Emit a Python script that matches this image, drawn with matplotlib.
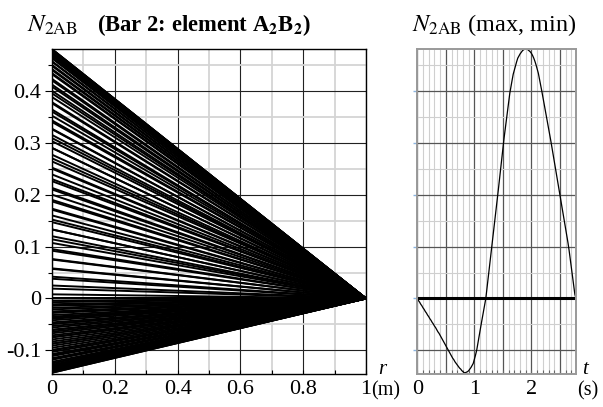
import numpy as np
import matplotlib
matplotlib.use("Agg")
import matplotlib.pyplot as plt
from matplotlib.ticker import MultipleLocator, FuncFormatter

plt.rcParams["font.family"] = ["Liberation Serif", "DejaVu Serif"]
plt.rcParams["mathtext.fontset"] = "stix"
plt.rcParams["axes.unicode_minus"] = False

# axial force N2AB, one value every 0.02 s from t = 0 to t = 2.78 s
dt = 0.02
n2ab = [
    0.000, -0.004, -0.007, -0.011, -0.014, -0.018, -0.021, -0.025,
    -0.028, -0.032, -0.035, -0.039, -0.042,
    -0.046, -0.049, -0.053, -0.056, -0.060, -0.064,
    -0.067, -0.071, -0.075, -0.079, -0.083, -0.087,
    -0.091, -0.095, -0.099,
    -0.103, -0.107, -0.111, -0.115, -0.118, -0.122,
    -0.125, -0.128, -0.131, -0.134,
    -0.136, -0.139, -0.141, -0.143, -0.143, -0.142, -0.141, -0.139,
    -0.136, -0.133, -0.129, -0.125,
    -0.117, -0.109, -0.100,
    -0.087, -0.074, -0.061,
    -0.049, -0.037, -0.026,
    -0.013, 0.000,
    0.019, 0.038, 0.057, 0.076, 0.095,
    0.114, 0.133, 0.152, 0.171, 0.190,
    0.210, 0.230, 0.250, 0.270, 0.290,
    0.309, 0.326, 0.343, 0.360, 0.378, 0.395,
    0.408, 0.420, 0.432,
    0.440, 0.448, 0.456, 0.463,
    0.467, 0.471, 0.474, 0.477, 0.479, 0.480, 0.480,
    0.480, 0.479, 0.477, 0.475, 0.472,
    0.468, 0.463, 0.457, 0.450, 0.442, 0.434,
    0.423, 0.412, 0.400,
    0.388, 0.376, 0.364, 0.352, 0.340, 0.327, 0.315, 0.303,
    0.290, 0.277, 0.264, 0.252, 0.239, 0.226, 0.213, 0.200,
    0.187, 0.173, 0.160, 0.147, 0.133, 0.120, 0.107,
    0.092, 0.075, 0.058, 0.042, 0.025, 0.008, 0.000,
]
t = np.arange(len(n2ab)) * dt

W, H = 603, 407
fig = plt.figure(figsize=(W / 100, H / 100), dpi=100)


def box(x0, y0, x1, y1):
    return [x0 / W, 1 - y1 / H, (x1 - x0) / W, (y1 - y0) / H]


ax1 = fig.add_axes(box(52, 49.3, 366, 373.5))
ax2 = fig.add_axes(box(417.3, 49.3, 576, 373.5))
ylim = (-0.1445, 0.48)
fmt = FuncFormatter(lambda v, p: "%g" % round(v, 3))

# left: force along the bar, a straight line from N(t) at r=0 down to 0 at r=1
for n in n2ab:
    ax1.plot([0.0, 1.0], [n, 0.0], color="black", lw=1.4, solid_capstyle="butt")
ax1.set_xlim(0, 1)
ax1.set_ylim(*ylim)
ax1.xaxis.set_major_locator(MultipleLocator(0.2))
ax1.xaxis.set_minor_locator(MultipleLocator(0.1))
ax1.yaxis.set_major_locator(MultipleLocator(0.1))
ax1.yaxis.set_minor_locator(MultipleLocator(0.05))
ax1.xaxis.set_major_formatter(fmt)
ax1.yaxis.set_major_formatter(fmt)
ax1.set_axisbelow(True)
ax1.grid(which="major", color="#222222", lw=0.8)
ax1.grid(which="minor", color="#d4d4d4", lw=1.3)
ax1.tick_params(axis="y", which="major", direction="out", length=5, width=0.8,
                labelsize=16, pad=3)
ax1.tick_params(axis="y", which="minor", direction="out", length=3, width=0.8)
ax1.tick_params(axis="x", which="both", direction="in", length=3, width=0.8,
                labelsize=16, pad=5)
for s in ax1.spines.values():
    s.set_color("black")
    s.set_linewidth(1.0)

# right: time history of N2AB
ax2.plot(t, n2ab, color="black", lw=0.9)
ax2.axhline(0, color="black", lw=2.2)
ax2.set_xlim(0, t[-1])
ax2.set_ylim(*ylim)
ax2.xaxis.set_major_locator(MultipleLocator(0.5))
ax2.xaxis.set_minor_locator(MultipleLocator(0.1))
ax2.yaxis.set_major_locator(MultipleLocator(0.1))
ax2.yaxis.set_minor_locator(MultipleLocator(0.05))
ax2.xaxis.set_major_formatter(FuncFormatter(
    lambda v, p: "%d" % round(v) if abs(v - round(v)) < 1e-6 else ""))
ax2.yaxis.set_major_formatter(FuncFormatter(lambda v, p: ""))
ax2.set_axisbelow(True)
ax2.grid(which="major", color="#555555", lw=0.9)
ax2.grid(which="minor", color="#cfcfcf", lw=0.8)
ax2.tick_params(axis="x", which="both", direction="in", length=3, width=0.8,
                color="#666666", labelsize=16, pad=5)
ax2.tick_params(axis="y", which="major", direction="out", length=3, width=1.0,
                color="#8ab4e0")
ax2.tick_params(axis="y", which="minor", length=0)
for s in ax2.spines.values():
    s.set_color("#999999")
    s.set_linewidth(1.4)


def ftext(x, y, s, **kw):
    fig.text(x / W, 1 - y / H, s, **kw)


# titles
ftext(27, 31.5, r"$N_{\mathrm{2AB}}$", fontsize=18, va="baseline")
ftext(97, 31.5, r"(Bar 2: element A$_{\mathbf{2}}$B$_{\mathbf{2}}$)",
      fontsize=16.3, fontweight="bold", va="baseline")
ftext(412, 31.5, r"$N_{\mathrm{2AB}}$ (max, min)", fontsize=17.5, va="baseline")

# axis names and units
ftext(382, 374, "r", fontsize=15, style="italic", ha="center", va="baseline")
ftext(371, 395, "(m)", fontsize=14.5, ha="left", va="baseline")
ftext(585, 374, "t", fontsize=15, style="italic", ha="center", va="baseline")
ftext(577, 395, "(s)", fontsize=14.5, ha="left", va="baseline")

fig.savefig("out.png", dpi=100)
